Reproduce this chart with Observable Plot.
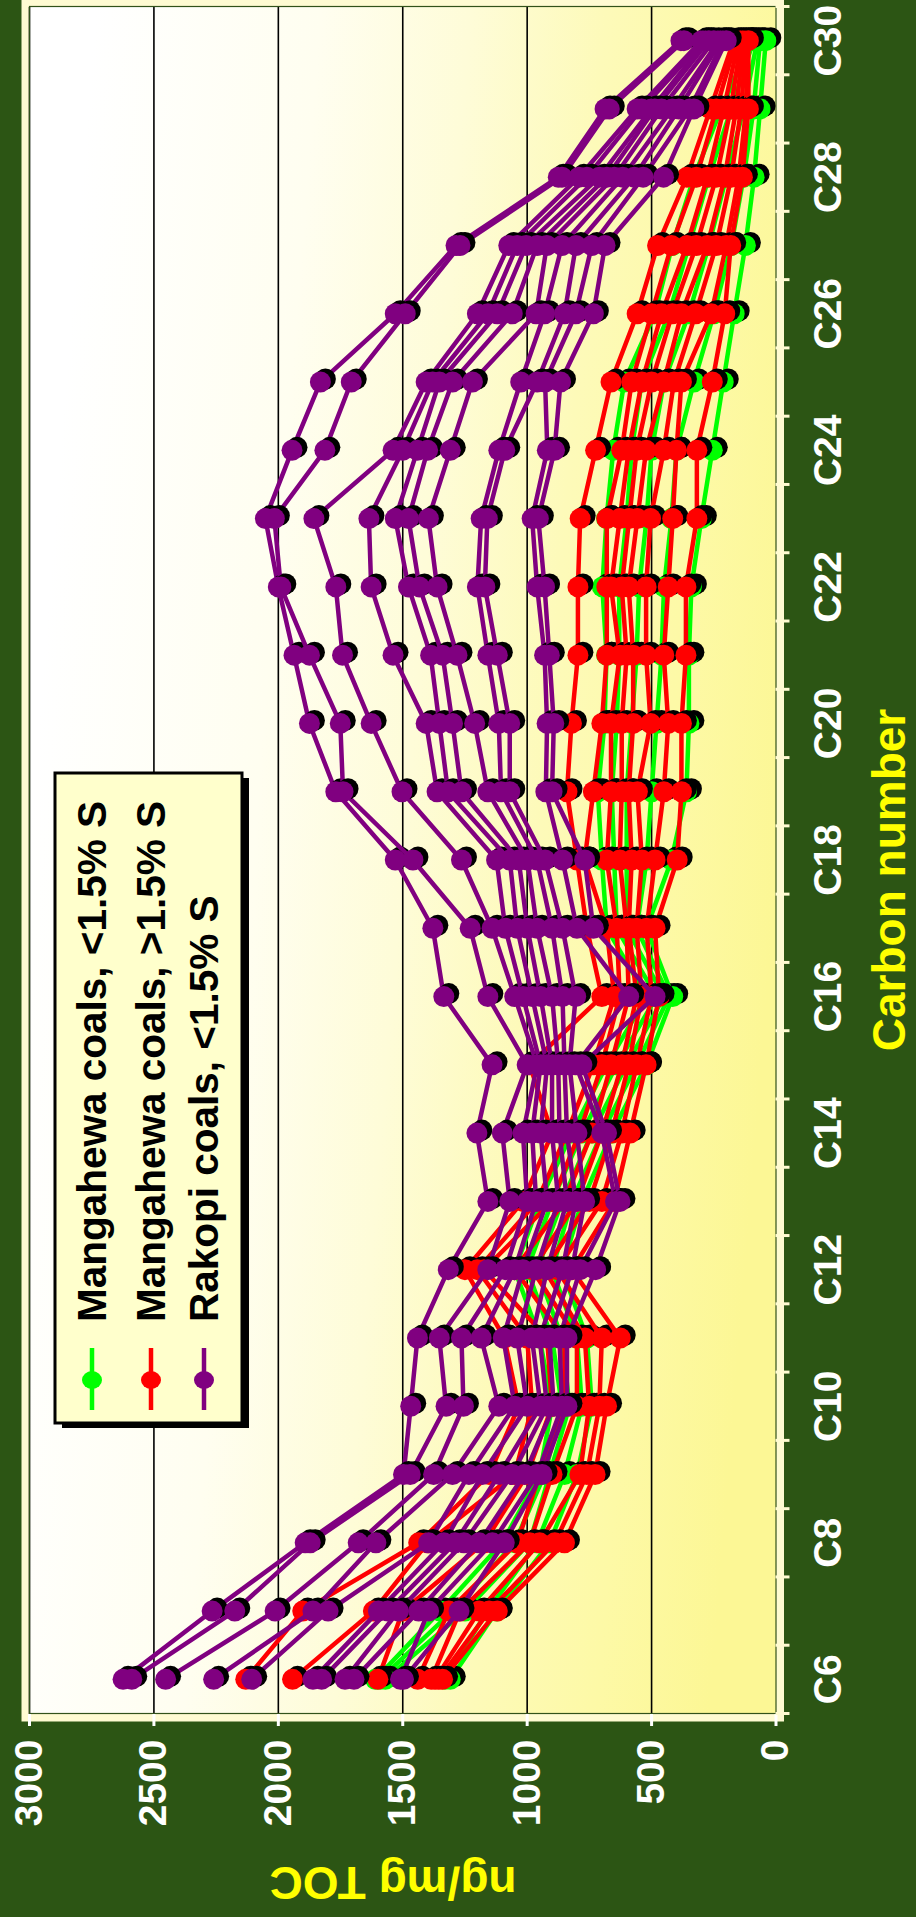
<!DOCTYPE html>
<html>
<head>
<meta charset="utf-8">
<script src="https://cdn.jsdelivr.net/npm/d3@7"></script>
<script src="https://cdn.jsdelivr.net/npm/@observablehq/plot@0.6"></script>
<style>
  html, body { margin: 0; padding: 0; width: 916px; height: 1917px; overflow: hidden; background: #2c5514; }
  #wrap { position: absolute; left: 0; top: 0; width: 1917px; height: 916px;
          transform-origin: 0 0; transform: translate(0px, 1917px) rotate(-90deg); }
</style>
</head>
<body>
<div id="wrap"></div>
<script>
// ---------- data ----------
const carbons = [6,7,8,9,10,11,12,13,14,15,16,17,18,19,20,21,22,23,24,25,26,27,28,29,30];
const carbonTicks = [6,8,10,12,14,16,18,20,22,24,26,28,30];
const valueTicks = [0,500,1000,1500,2000,2500,3000];
const gridValues = [500,1000,1500,2000,2500,3000];
const legendLabels = ["Mangahewa coals, <1.5% S", "Mangahewa coals, >1.5% S", "Rakopi coals, <1.5% S"];
const legendColors = ["#00ff00", "#ff0000", "#800080"];

// values per carbon number (C6 ... C30), one entry per coal sample
const mangahewaLowS = [
  [1610,1591,1570,1330,1309],
  [1350,1300,1250,1160,1122],
  [1100,1050,990,960,910],
  [950,930,910,850,800],
  [900,860,830,780,740],
  [950,900,860,800,760],
  [1050,1000,960,900,860],
  [950,900,860,820,780],
  [820,780,740,700,660],
  [680,640,600,560,520],
  [520,480,450,430,415],
  [680,640,600,560,520],
  [700,650,600,520,420],
  [716,660,600,500,360],
  [689,640,580,480,350],
  [681,630,560,460,350],
  [698,630,550,450,340],
  [681,600,520,420,300],
  [654,580,500,400,256],
  [610,540,450,330,212],
  [487,430,350,250,168],
  [417,350,270,180,123],
  [330,270,200,130,88],
  [220,180,130,90,64],
  [100,90,75,64,41]
];
const mangahewaHighS = [
  [2131,1943,1600,1440,1386,1370,1355,1340],
  [1902,1618,1500,1315,1270,1193,1153,1120],
  [1436,1400,1173,1040,990,950,889,850],
  [1153,1050,1000,950,900,788,760,727],
  [1034,980,900,850,800,751,710,681],
  [1092,1000,920,850,800,768,700,626],
  [1250,1200,1173,1050,980,930,880,820],
  [1017,960,900,850,800,750,700,650],
  [900,840,790,740,700,660,620,586],
  [990,734,700,663,620,592,560,522],
  [700,650,628,592,560,540,500,470],
  [760,681,640,600,592,560,520,486],
  [800,769,680,628,580,539,486,397],
  [840,734,663,620,592,557,451,380],
  [822,700,663,620,574,504,433,380],
  [796,680,628,600,574,522,451,362],
  [796,680,663,620,592,522,433,362],
  [787,680,628,590,557,504,415,318],
  [725,620,592,560,522,451,400,318],
  [663,580,539,500,451,410,380,256],
  [558,500,460,417,380,323,260,206],
  [476,420,358,320,276,240,200,182],
  [358,320,276,240,206,180,150,135],
  [264,240,210,182,160,140,120,111],
  [170,160,150,140,130,120,115,111]
];
const rakopiLowS = [
  [2624,2589,2453,2260,2107,1861,1826,1732,1696,1509,1497],
  [2266,2175,2013,1861,1800,1598,1560,1517,1436,1396,1274],
  [1892,1872,1679,1608,1396,1335,1290,1254,1193,1140,1092],
  [1497,1470,1376,1300,1234,1180,1112,1060,1011,960,940],
  [1468,1326,1256,1114,1050,1000,946,920,893,860,840],
  [1441,1353,1264,1185,1096,1040,981,950,911,870,840],
  [1317,1158,1088,1050,1017,964,920,858,820,787,725],
  [1158,1070,1000,964,920,875,840,805,769,645,627],
  [1202,1100,1017,980,946,900,870,840,800,700,681],
  [1141,1000,960,946,920,900,875,850,830,805,780],
  [1335,1158,1050,1017,980,946,900,858,805,592,486],
  [1379,1229,1141,1088,1040,999,960,900,858,800,734],
  [1530,1459,1264,1123,1070,1034,999,960,928,858,769],
  [1769,1740,1503,1362,1318,1264,1158,1105,1070,925,900],
  [1875,1751,1627,1406,1353,1300,1211,1114,1070,920,893],
  [1937,1875,1742,1539,1388,1340,1282,1158,1120,930,911],
  [2000,1990,1769,1627,1477,1433,1362,1200,1170,960,930],
  [2052,2016,1857,1636,1530,1477,1397,1185,1160,980,955],
  [1945,1813,1539,1500,1441,1400,1309,1114,1090,919,890],
  [1831,1707,1406,1380,1353,1300,1220,1026,960,928,866],
  [1530,1490,1200,1158,1120,1060,964,930,850,805,734],
  [1286,1270,1074,1040,1004,960,921,860,804,740,687],
  [875,860,792,760,710,680,650,616,570,534,452],
  [687,670,558,540,500,487,460,417,390,346,330],
  [382,370,299,290,280,270,250,229,220,210,200]
];

// ---------- build series ----------
function toSeries(byCarbon, color) {
  const n = byCarbon[0].length;
  return d3.range(n).map(s => ({
    color,
    points: carbons.map((c, i) => ({carbon: c, value: byCarbon[i][s]}))
  }));
}
const allSeries = [
  ...toSeries(mangahewaLowS, legendColors[0]),
  ...toSeries(mangahewaHighS, legendColors[1]),
  ...toSeries(rakopiLowS, legendColors[2])
];

const W = 1917, H = 916;
const font = "'Liberation Sans', Arial, Helvetica, sans-serif";

const seriesMarks = allSeries.flatMap(s => [
  Plot.line(s.points, {x: "carbon", y: "value", stroke: s.color, strokeWidth: 4.5, strokeLinejoin: "round"}),
  Plot.dot(s.points, {x: "carbon", y: "value", r: 10.5, fill: "#000", dx: 3, dy: 5}),
  Plot.dot(s.points, {x: "carbon", y: "value", r: 10.5, fill: s.color})
]);

const chart = Plot.plot({
  width: W,
  height: H,
  marginLeft: 203,
  marginRight: 7,
  marginTop: 29,
  marginBottom: 140.5,
  style: {background: "none", fontFamily: font, color: "white", overflow: "visible"},
  x: {type: "linear", domain: [5.5, 30.5]},
  y: {type: "linear", domain: [0, 3000]},
  marks: [
    Plot.frame({stroke: "#fffbd2", strokeWidth: 8, inset: -4}),
    Plot.frame({fill: "url(#plotBg)", stroke: "none"}),
    Plot.ruleY(gridValues, {stroke: "#000", strokeWidth: 1.6}),
    Plot.frame({stroke: "#32521a", strokeWidth: 1.2}),
    Plot.axisY({ticks: valueTicks, tickSize: 12, tickPadding: 14, tickFormat: d => String(d),
                fontSize: 39, fontWeight: "bold", color: "#ffffff", label: null, strokeWidth: 3}),
    Plot.axisX({ticks: d3.range(5.5, 31, 1), tickSize: 14, tickFormat: () => "",
                color: "#fffbd2", label: null, strokeWidth: 3}),
    Plot.axisX({ticks: carbonTicks, tickSize: 0, tickPadding: 37, tickFormat: d => "C" + d,
                fontSize: 39, fontWeight: "bold", color: "#ffffff", label: null}),
    ...seriesMarks
  ]
});

document.getElementById("wrap").appendChild(chart);

// ---------- gradient, titles, legend ----------
const svg = d3.select(chart);
const defs = svg.insert("defs", ":first-child");
const grad = defs.append("linearGradient").attr("id", "plotBg")
  .attr("gradientUnits", "userSpaceOnUse")
  .attr("x1", 1090).attr("y1", 29).attr("x2", 1030).attr("y2", 775.5);
[[0, "#ffffff"], [0.3, "#fffef0"], [0.5, "#fefcd8"], [0.68, "#fdfab9"], [0.85, "#fdf9a6"], [1, "#fcf795"]]
  .forEach(([o, c]) => grad.append("stop").attr("offset", o).attr("stop-color", c));

svg.append("text")
  .attr("transform", "translate(50,393) rotate(-90)")
  .attr("text-anchor", "middle")
  .attr("font-family", font).attr("font-weight", "bold").attr("font-size", 46)
  .attr("fill", "#ffff00")
  .text("ng/mg TOC");

svg.append("text")
  .attr("x", 1037).attr("y", 905)
  .attr("text-anchor", "middle")
  .attr("font-family", font).attr("font-weight", "bold").attr("font-size", 46)
  .attr("fill", "#ffff00")
  .text("Carbon number");

const lg = svg.append("g");
lg.append("rect").attr("x", 489).attr("y", 62).attr("width", 650).attr("height", 187).attr("fill", "#000");
lg.append("rect").attr("x", 494).attr("y", 55).attr("width", 650).attr("height", 187)
  .attr("fill", "#ffffcc").attr("stroke", "#000").attr("stroke-width", 3);
const rowCenters = [92, 151, 204];
legendLabels.forEach((label, i) => {
  const cy = rowCenters[i];
  lg.append("line").attr("x1", 507).attr("x2", 569).attr("y1", cy).attr("y2", cy)
    .attr("stroke", legendColors[i]).attr("stroke-width", 4.5);
  lg.append("ellipse").attr("cx", 537).attr("cy", cy).attr("rx", 9).attr("ry", 10)
    .attr("fill", legendColors[i]);
  lg.append("text").attr("x", 595).attr("y", cy + 14)
    .attr("text-anchor", "start")
    .attr("font-family", font).attr("font-weight", "bold").attr("font-size", 40.5)
    .attr("fill", "#000")
    .text(label);
});
</script>
</body>
</html>
